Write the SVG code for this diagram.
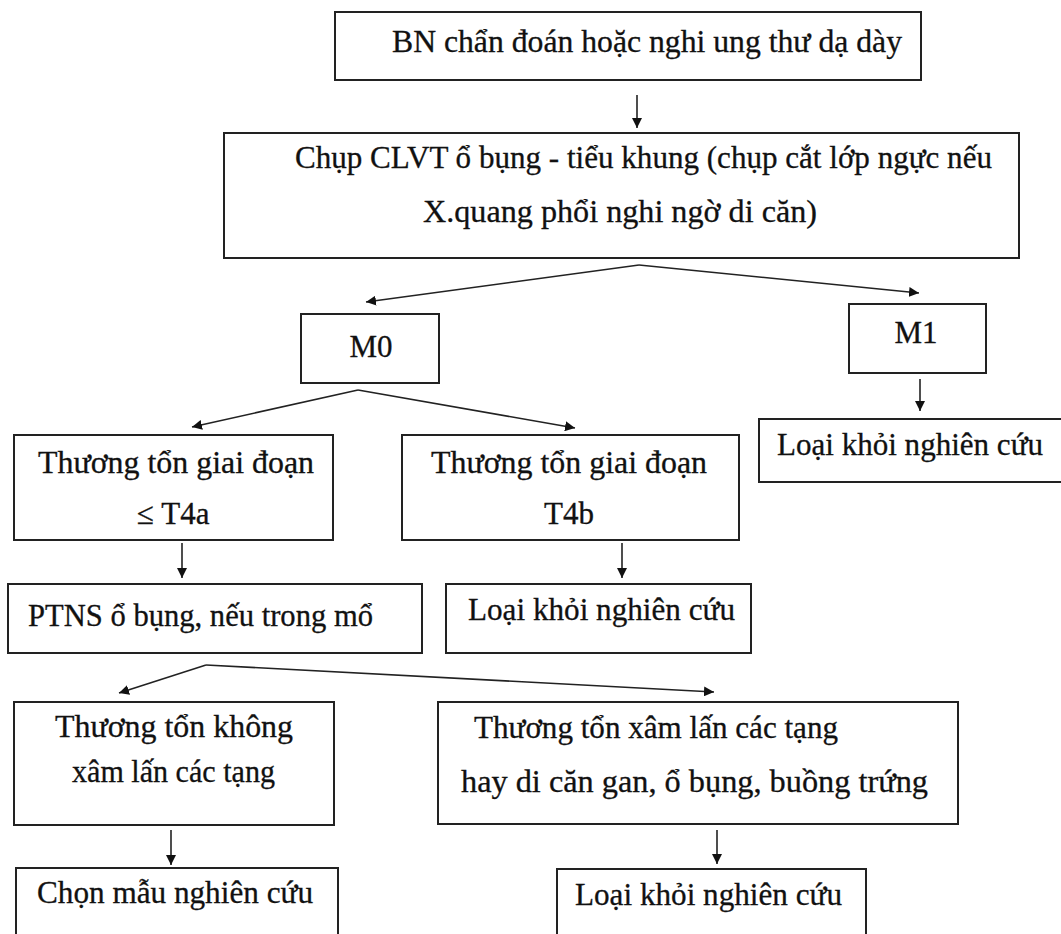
<svg xmlns="http://www.w3.org/2000/svg" width="1061" height="934" viewBox="0 0 1061 934">
<defs>
<marker id="ah" viewBox="0 0 10 10" refX="10" refY="5" markerWidth="10" markerHeight="10" markerUnits="userSpaceOnUse" orient="auto">
<path d="M0,0 L10,5 L0,10 z" fill="#111"/>
</marker>
<style>
.box{fill:#fff;stroke:#222;stroke-width:2}
.t{font-size:31px;fill:#111;stroke:#111;stroke-width:0.3}
.c{fill:none;stroke:#222;stroke-width:1.6;marker-end:url(#ah)}
</style>
</defs>
<rect width="1061" height="934" fill="#fff"/>
<g font-family="'Liberation Serif', 'Times New Roman', serif">
<g id="n1"><rect class="box" x="335" y="12" width="586" height="68"/>
<text class="t" x="392" y="52" textLength="510" lengthAdjust="spacingAndGlyphs">BN chẩn đoán hoặc nghi ung thư dạ dày</text></g>
<g id="n2"><rect class="box" x="224" y="133" width="795" height="125"/>
<text class="t" x="295" y="168" textLength="697" lengthAdjust="spacingAndGlyphs">Chụp CLVT ổ bụng - tiểu khung (chụp cắt lớp ngực nếu</text>
<text class="t" x="423" y="222" textLength="394" lengthAdjust="spacingAndGlyphs">X.quang phổi nghi ngờ di căn)</text></g>
<g id="m0"><rect class="box" x="301" y="314" width="138" height="69"/>
<text class="t" x="371" y="357" text-anchor="middle">M0</text></g>
<g id="m1"><rect class="box" x="849" y="304" width="137" height="69"/>
<text class="t" x="916" y="343" text-anchor="middle">M1</text></g>
<g id="loai1"><rect class="box" x="759" y="419" width="303" height="63"/>
<text class="t" x="777" y="455" textLength="266" lengthAdjust="spacingAndGlyphs">Loại khỏi nghiên cứu</text></g>
<g id="t4a"><rect class="box" x="14" y="435" width="319" height="105"/>
<text class="t" x="38" y="473" textLength="276" lengthAdjust="spacingAndGlyphs">Thương tổn giai đoạn</text>
<text class="t" x="137" y="524">≤ T4a</text></g>
<g id="t4b"><rect class="box" x="402" y="435" width="337" height="105"/>
<text class="t" x="431" y="473" textLength="276" lengthAdjust="spacingAndGlyphs">Thương tổn giai đoạn</text>
<text class="t" x="544" y="524">T4b</text></g>
<g id="ptns"><rect class="box" x="8" y="584" width="414" height="69"/>
<text class="t" x="28" y="626" textLength="345" lengthAdjust="spacingAndGlyphs">PTNS ổ bụng, nếu trong mổ</text></g>
<g id="loai2"><rect class="box" x="446" y="584" width="305" height="69"/>
<text class="t" x="468" y="620" textLength="267" lengthAdjust="spacingAndGlyphs">Loại khỏi nghiên cứu</text></g>
<g id="khong"><rect class="box" x="14" y="702" width="320" height="123"/>
<text class="t" x="55" y="737" textLength="238" lengthAdjust="spacingAndGlyphs">Thương tổn không</text>
<text class="t" x="72" y="782" textLength="203" lengthAdjust="spacingAndGlyphs">xâm lấn các tạng</text></g>
<g id="xamlan"><rect class="box" x="438" y="702" width="520" height="122"/>
<text class="t" x="474" y="738" textLength="364" lengthAdjust="spacingAndGlyphs">Thương tổn xâm lấn các tạng</text>
<text class="t" x="461" y="792" textLength="467" lengthAdjust="spacingAndGlyphs">hay di căn gan, ổ bụng, buồng trứng</text></g>
<g id="chon"><rect class="box" x="16" y="868" width="322" height="80"/>
<text class="t" x="37" y="903" textLength="276" lengthAdjust="spacingAndGlyphs">Chọn mẫu nghiên cứu</text></g>
<g id="loai3"><rect class="box" x="557" y="869" width="309" height="80"/>
<text class="t" x="575" y="905" textLength="267" lengthAdjust="spacingAndGlyphs">Loại khỏi nghiên cứu</text></g>
</g>
<g id="connectors">
<path class="c" d="M637,95 L637,128"/>
<path class="c" d="M639,265 L366,302"/>
<path class="c" d="M639,265 L919,293"/>
<path class="c" d="M920,379 L920,411"/>
<path class="c" d="M358,390 L192,427"/>
<path class="c" d="M358,390 L575,428"/>
<path class="c" d="M182,543 L182,578"/>
<path class="c" d="M622,543 L622,578"/>
<path class="c" d="M206,665 L119,693"/>
<path class="c" d="M206,665 L714,692"/>
<path class="c" d="M171,830 L171,865"/>
<path class="c" d="M717,830 L717,864"/>
</g>
</svg>
